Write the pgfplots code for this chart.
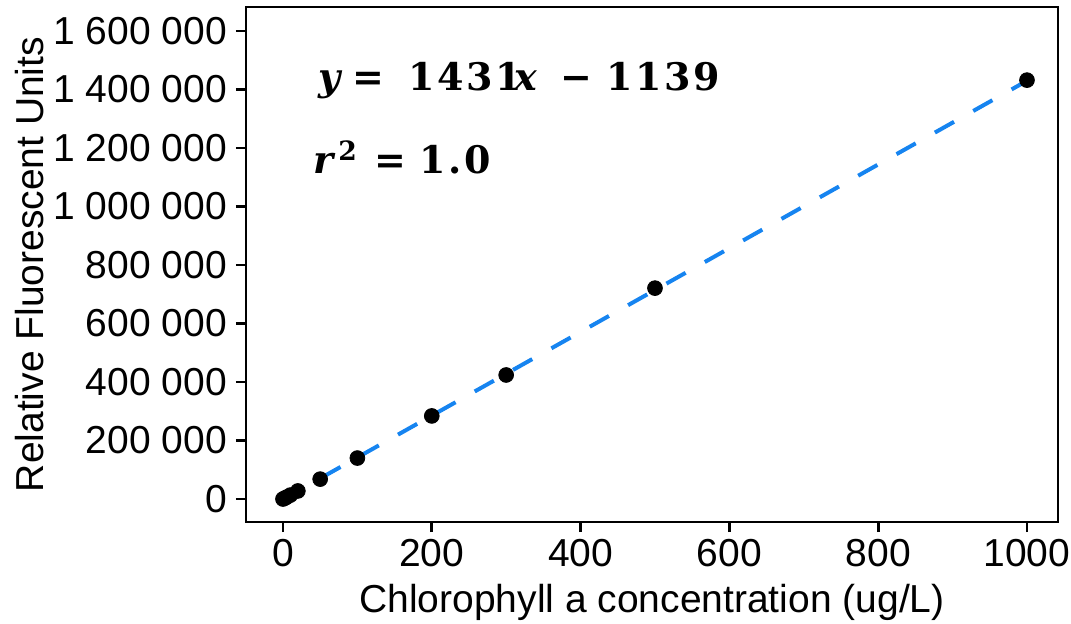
\documentclass[border=0pt]{standalone}
\usepackage{pgfplots}
\pgfplotsset{compat=1.18}
\usepackage{fontspec}
\setmainfont{Liberation Sans}
\newfontfamily\eqfont[LetterSpace=7]{DejaVu Serif}
\definecolor{fitblue}{RGB}{22,132,240}
\newcommand\at[2]{\makebox[0pt][l]{\hspace{#1}#2}}
\begin{document}
\begin{tikzpicture}
\path[use as bounding box] (-123pt,-50.5pt) rectangle (412.5pt,261pt);
\begin{axis}[
  at={(0,0)}, anchor=south west,
  scale only axis,
  width=406pt, height=257.5pt,
  xmin=-49.7, xmax=1041.7,
  ymin=-78600, ymax=1682000,
  scaled y ticks=false, scaled x ticks=false,
  axis line style={line width=1.4pt},
  tick style={line width=1.4pt, black},
  tick align=outside,
  major tick length=5pt,
  xtick={0,200,400,600,800,1000},
  xticklabels={0,200,400,600,800,1000},
  ytick={0,200000,400000,600000,800000,1000000,1200000,1400000,1600000},
  yticklabels={0,200 000,400 000,600 000,800 000,1 000 000,1 200 000,1 400 000,1 600 000},
  xtick pos=bottom, ytick pos=left,
  ticklabel style={font=\fontsize{19.5}{21}\selectfont},
  yticklabel style={xshift=-1pt},
  label style={font=\fontsize{19.5}{21}\selectfont},
  xlabel style={yshift=-2pt},
  xlabel={Chlorophyll a concentration (ug/L)},
  ylabel={Relative Fluorescent Units},
  ylabel style={yshift=-2pt},
]
\addplot[fitblue, line width=2pt, dash pattern=on 11pt off 11pt] coordinates {(0,-1139) (1000,1429861)};
\addplot[only marks, mark=*, mark size=3.7pt, black] coordinates {(0,0) (2.5,3000) (5,6500) (10,13500) (20,27500) (50,68000) (100,140000) (200,284000) (300,424000) (500,721000) (1000,1432000)};
\end{axis}
\node[anchor=base west, inner sep=0pt, font=\eqfont\bfseries\fontsize{19}{22}\selectfont] at (35.5pt,216pt) {\at{0pt}{\textit{y}}\at{17pt}{=}\at{45pt}{1431}\at{98pt}{\textit{x}}\at{121pt}{−}\at{144pt}{1139}\hspace{196pt}};
\node[anchor=base west, inner sep=0pt, font=\eqfont\bfseries\fontsize{19}{22}\selectfont] at (33pt,174.5pt) {\at{0pt}{\textit{r}\textsuperscript{2}}\at{30.5pt}{=}\at{53pt}{1.0}\hspace{88pt}};
\end{tikzpicture}
\end{document}
